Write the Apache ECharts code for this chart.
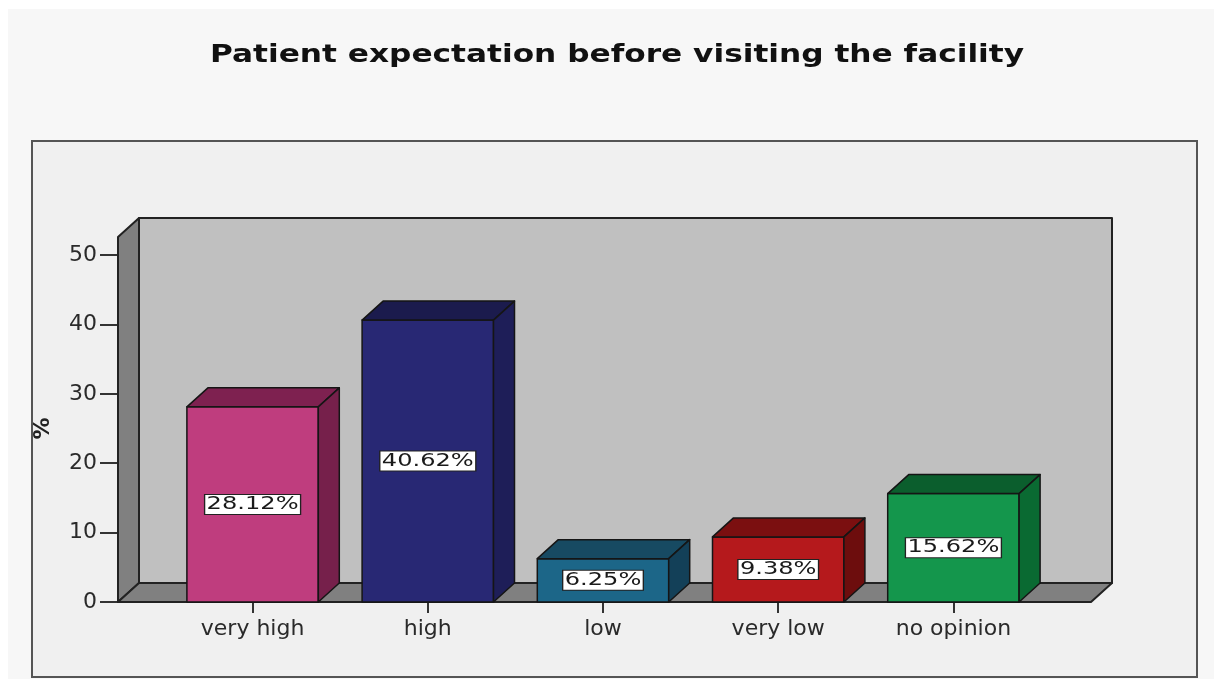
<!DOCTYPE html>
<html>
<head>
<meta charset="utf-8">
<style>
  html, body { margin: 0; padding: 0; background: #ffffff; }
  #chart { width: 1214px; height: 679px; }
</style>
<script src="https://cdn.jsdelivr.net/npm/echarts@6/dist/echarts.min.js"></script>
</head>
<body>
<div id="chart"></div>
<script>
// ---- data ----
const categories = ['very high', 'high', 'low', 'very low', 'no opinion'];
const values = [28.12, 40.62, 6.25, 9.38, 15.62];
const valueLabels = ['28.12%', '40.62%', '6.25%', '9.38%', '15.62%'];
const yMin = 0, yMax = 50, yInterval = 10;
const chartTitle = 'Patient expectation before visiting the facility';

// ---- styles ----
const frontColors = ['#bf3d7e', '#282874', '#1c6688', '#b5191c', '#14964c'];
const topColors   = ['#7e2150', '#1b1b4d', '#174a62', '#7b0f10', '#0b5e2d'];
const sideColors  = ['#76204b', '#1e1e58', '#134058', '#6d0d0d', '#0a6a32'];
const FONT = 'DejaVu Sans';
const DX = 21, DY = -19;

const chart = echarts.init(document.getElementById('chart'), null, { renderer: 'canvas' });

function renderWalls(params, api) {
  const cs = params.coordSys;
  const x0 = cs.x - 47, x1 = cs.x + cs.width + 50;
  const y0 = cs.y + cs.height, yT = cs.y - 18;
  const st = { stroke: '#222', lineWidth: 2, lineJoin: 'round' };
  return {
    type: 'group',
    children: [
      { type: 'rect', shape: { x: x0 + DX, y: yT + DY, width: x1 - x0, height: y0 - yT },
        style: Object.assign({ fill: '#c0c0c0' }, st) },
      { type: 'polygon', shape: { points: [[x0, yT], [x0 + DX, yT + DY], [x0 + DX, y0 + DY], [x0, y0]] },
        style: Object.assign({ fill: '#808080' }, st) },
      { type: 'polygon', shape: { points: [[x0, y0], [x0 + DX, y0 + DY], [x1 + DX, y0 + DY], [x1, y0]] },
        style: Object.assign({ fill: '#808080' }, st) }
    ]
  };
}

function renderBar(params, api) {
  const i = api.value(0);
  const topPt = api.coord([i, api.value(1)]);
  const basePt = api.coord([i, 0]);
  const bw = api.size([1, 0])[0] * 0.75;
  const l = topPt[0] - bw / 2, r = topPt[0] + bw / 2;
  const t = topPt[1], b = basePt[1];
  const st = { stroke: '#151515', lineWidth: 1.5, lineJoin: 'round' };
  return {
    type: 'group',
    children: [
      { type: 'rect', shape: { x: l, y: t, width: bw, height: b - t },
        style: Object.assign({ fill: frontColors[i] }, st) },
      { type: 'polygon', shape: { points: [[l, t], [l + DX, t + DY], [r + DX, t + DY], [r, t]] },
        style: Object.assign({ fill: topColors[i] }, st) },
      { type: 'polygon', shape: { points: [[r, t], [r + DX, t + DY], [r + DX, b + DY], [r, b]] },
        style: Object.assign({ fill: sideColors[i] }, st) },
      { type: 'text', x: topPt[0], y: (t + b) / 2, scaleX: 1.34,
        style: { text: valueLabels[i], fill: '#1a1a1a', font: '18px "' + FONT + '"',
          align: 'center', verticalAlign: 'middle', backgroundColor: '#ffffff',
          borderColor: '#222', borderWidth: 1, padding: [1, 1, 0, 1] } }
    ]
  };
}

chart.setOption({
  backgroundColor: '#ffffff',
  animation: false,
  graphic: [
    { type: 'rect', z: -10, shape: { x: 8, y: 9, width: 1206, height: 670 }, style: { fill: '#f7f7f7' } },
    { type: 'rect', z: -9, shape: { x: 32, y: 141, width: 1165, height: 536 },
      style: { fill: '#f0f0f0', stroke: '#555', lineWidth: 2 } },
    { type: 'text', z: 10, x: 617, y: 56, scaleX: 1.3,
      style: { text: chartTitle, fill: '#111', font: 'bold 24px "' + FONT + '"',
        align: 'center', verticalAlign: 'middle' } }
  ],
  grid: { left: 165, right: 173, top: 255, bottom: 77, containLabel: false },
  xAxis: {
    type: 'category', data: categories, boundaryGap: true,
    axisLine: { show: false },
    axisTick: { show: true, alignWithLabel: true, length: 11, lineStyle: { color: '#333', width: 2 } },
    axisLabel: { margin: 16, fontFamily: FONT, fontSize: 22, color: '#2a2a2a' },
    splitLine: { show: false }
  },
  yAxis: {
    type: 'value', min: yMin, max: yMax, interval: yInterval, offset: 47,
    name: '%', nameLocation: 'middle', nameRotate: 90, nameGap: 64,
    nameTextStyle: { fontFamily: FONT, fontWeight: 'bold', fontSize: 22, color: '#222' },
    axisLine: { show: false },
    axisTick: { show: true, length: 18, lineStyle: { color: '#333', width: 2 } },
    axisLabel: { margin: 21, fontFamily: FONT, fontSize: 22, color: '#2a2a2a' },
    splitLine: { show: false }
  },
  series: [
    { type: 'custom', z: 1, clip: false, silent: true, renderItem: renderWalls, data: [[0, 0]],
      encode: { x: 0, y: 1 } },
    { type: 'custom', z: 3, clip: false, renderItem: renderBar,
      data: values.map((v, i) => [i, v]), encode: { x: 0, y: 1 } }
  ]
});
</script>
</body>
</html>
